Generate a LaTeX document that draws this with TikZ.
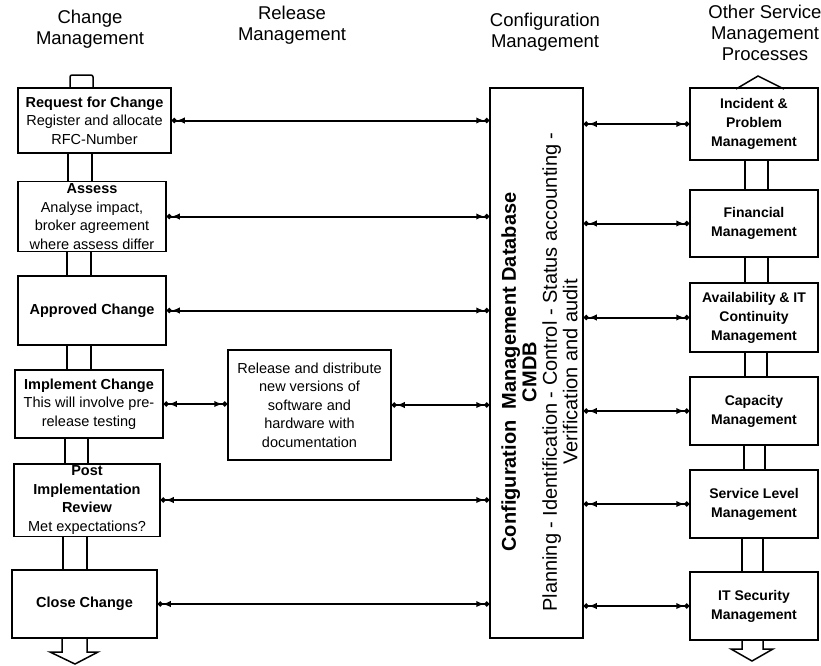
\documentclass[tikz,border=0pt]{standalone}
\usepackage{fontspec}
\setmainfont{Liberation Sans}
\usetikzlibrary{arrows.meta}
\begin{document}
\begin{tikzpicture}[x=1pt,y=-1pt,
  box/.style={draw, line width=1.5pt, align=center, inner sep=2pt},
  lbox/.style={box, font=\fontsize{14.5}{18.5}\selectfont},
  rbox/.style={box, minimum width=128pt, font=\bfseries\fontsize{14}{19}\selectfont},
  pipe/.style={line width=1.5pt},
  conn/.style={line width=2pt,
    {Circle[length=5pt] Latex[length=8pt,width=6.5pt]}-{Latex[length=8pt,width=6.5pt] Circle[length=5pt]}},
  head/.style={align=center, font=\fontsize{18.5}{21}\selectfont}]
\useasboundingbox (0,0) rectangle (821,665);

% column headings
\node[head] (h1) at (90,29)  {Change\\Management};
\node[head] (h2) at (292,25) {Release\\Management};
\node[head] (h3) at (545,32) {Configuration\\Management};
\node[head] (h4) at (765,33) {Other Service\\Management\\Processes};

% change management steps
\node[lbox, minimum width=153pt, minimum height=65pt] (b1) at (94.5,120.5)
  {\textbf{Request for Change}\\Register and allocate\\RFC-Number};
\node[lbox, minimum width=148pt, minimum height=67pt] (b2) at (92,216.5)
  {\textbf{Assess}\\Analyse impact,\\broker agreement\\where assess differ};
\node[lbox, minimum width=148pt, minimum height=69pt] (b3) at (92,310.5)
  {\textbf{Approved Change}};
\node[lbox, minimum width=148pt, minimum height=68pt] (b4) at (89,404)
  {\textbf{Implement Change}\\This will involve pre-\\release testing};
\node[lbox, minimum width=146pt, minimum height=70pt] (b5) at (87,500)
  {\textbf{Post}\\\textbf{Implementation}\\\textbf{Review}\\Met expectations?};
\node[lbox, minimum width=145pt, minimum height=68pt] (b6) at (84.5,604)
  {\textbf{Close Change}};

% release management
\node[box, minimum width=163pt, minimum height=110pt,
      font=\fontsize{14.5}{18.5}\selectfont] (rel) at (309.5,405)
  {Release and distribute\\new versions of\\software and\\hardware with\\documentation};

% configuration management database
\node[box, minimum width=93pt, minimum height=550pt] (cmdb) at (536.5,363) {};
\node[rotate=90, align=center, font=\fontsize{20}{20.5}\selectfont] (cmdbtext) at (539.5,372)
  {\textbf{Configuration\ \ Management Database}\\\textbf{CMDB}\\
   Planning - Identification - Control - Status accounting -\\Verification and audit};

% other service management processes
\node[rbox, minimum height=72pt] (r1) at (754,124) {Incident \&\\Problem\\Management};
\node[rbox, minimum height=67pt] (r2) at (754,223.5) {Financial\\Management};
\node[rbox, minimum height=69pt] (r3) at (754,317.5) {Availability \& IT\\Continuity\\Management};
\node[rbox, minimum height=68pt] (r4) at (754,411) {Capacity\\Management};
\node[rbox, minimum height=68pt] (r5) at (754,504) {Service Level\\Management};
\node[rbox, minimum height=68pt] (r6) at (754,606) {IT Security\\Management};

% flow pipes between change steps
\draw[pipe, rounded corners=2pt] (b1.north -| 70,0) -- (70,75) -- (93,75) -- (b1.north -| 93,0);
\draw[pipe] (b1.south -| 68,0) -- (b2.north -| 68,0);
\draw[pipe] (b1.south -| 92,0) -- (b2.north -| 92,0);
\draw[pipe] (b2.south -| 67,0) -- (b3.north -| 67,0);
\draw[pipe] (b2.south -| 91,0) -- (b3.north -| 91,0);
\draw[pipe] (b3.south -| 67,0) -- (b4.north -| 67,0);
\draw[pipe] (b3.south -| 91,0) -- (b4.north -| 91,0);
\draw[pipe] (b4.south -| 65,0) -- (b5.north -| 65,0);
\draw[pipe] (b4.south -| 88,0) -- (b5.north -| 88,0);
\draw[pipe] (b5.south -| 63,0) -- (b6.north -| 63,0);
\draw[pipe] (b5.south -| 87,0) -- (b6.north -| 87,0);
\draw[pipe] (b6.south -| 62,0) -- (62,652) -- (50,652) -- (75,664) -- (98,652) -- (87,652) -- (b6.south -| 87,0);

% flow pipes between service processes
\draw[pipe] (736,89) -- (758,76) -- (784,89);
\draw[pipe] (r1.south -| 745,0) -- (r2.north -| 745,0);
\draw[pipe] (r1.south -| 768,0) -- (r2.north -| 768,0);
\draw[pipe] (r2.south -| 745,0) -- (r3.north -| 745,0);
\draw[pipe] (r2.south -| 768,0) -- (r3.north -| 768,0);
\draw[pipe] (r3.south -| 745,0) -- (r4.north -| 745,0);
\draw[pipe] (r3.south -| 767,0) -- (r4.north -| 767,0);
\draw[pipe] (r4.south -| 744,0) -- (r5.north -| 744,0);
\draw[pipe] (r4.south -| 765,0) -- (r5.north -| 765,0);
\draw[pipe] (r5.south -| 742,0) -- (r6.north -| 742,0);
\draw[pipe] (r5.south -| 763,0) -- (r6.north -| 763,0);
\draw[pipe] (r6.south -| 742,0) -- (742,649) -- (731,649) -- (752,661) -- (773,649) -- (763,649) -- (r6.south -| 763,0);

% links to the CMDB
\draw[conn] (b1.east) -- (b1.east -| cmdb.west);
\draw[conn] (b2.east) -- (b2.east -| cmdb.west);
\draw[conn] (b3.east) -- (b3.east -| cmdb.west);
\draw[conn] (b4.east) -- (b4.east -| rel.west);
\draw[conn] (rel.east) -- (rel.east -| cmdb.west);
\draw[conn] (b5.east) -- (b5.east -| cmdb.west);
\draw[conn] (b6.east) -- (b6.east -| cmdb.west);
\draw[conn] (r1.west -| cmdb.east) -- (r1.west);
\draw[conn] (r2.west -| cmdb.east) -- (r2.west);
\draw[conn] (r3.west -| cmdb.east) -- (r3.west);
\draw[conn] (r4.west -| cmdb.east) -- (r4.west);
\draw[conn] (r5.west -| cmdb.east) -- (r5.west);
\draw[conn] (r6.west -| cmdb.east) -- (r6.west);
\end{tikzpicture}
\end{document}
